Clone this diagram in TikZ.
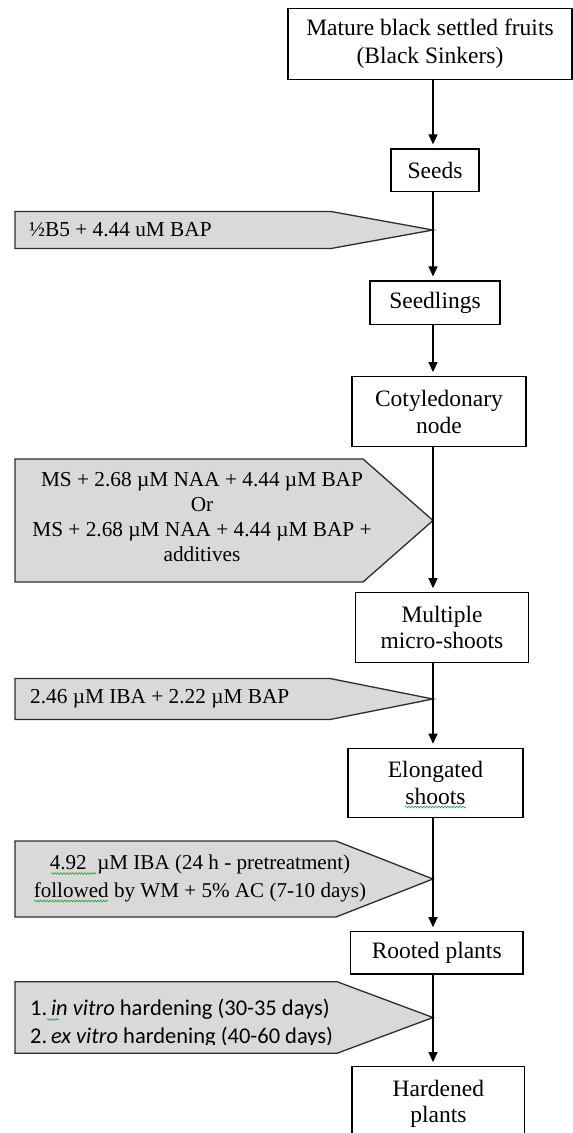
\documentclass[tikz,border=0pt]{standalone}
\usepackage{fontspec}
\setmainfont{Liberation Serif}
\newfontfamily\calib{Carlito}
\usetikzlibrary{arrows.meta,decorations.pathmorphing}
\definecolor{pentgray}{RGB}{217,217,217}
\definecolor{edgegray}{RGB}{45,45,45}
\definecolor{spellgreen}{RGB}{40,160,60}
\begin{document}
\begin{tikzpicture}[x=1pt,y=-1pt,
  box/.style={draw=black, line width=1.2pt, fill=white, align=center, inner sep=0pt,
              font=\fontsize{23.5}{26.7}\selectfont},
  pent/.style={draw=edgegray, line width=1.3pt, fill=pentgray},
  ptext/.style={inner sep=0pt, font=\fontsize{21.3}{25}\selectfont},
  arr/.style={line width=1.2pt, shorten >=4pt, -{Triangle[length=10pt,width=9pt]}},
  squiggle/.style={draw=spellgreen, line width=0.6pt,
                   decorate, decoration={snake, amplitude=0.9pt, segment length=3pt}},
]
\useasboundingbox (0,0) rectangle (573,1133);
\clip (0,0) rectangle (573,1133);
\fill[white] (0,0) rectangle (573,1133);
\coordinate (spine) at (433,0);

% pentagon arrows (media / treatments)
\draw[pent] (15,211.5) -- (331,211.5) -- (433,230) -- (331,248.5) -- (15,248.5) -- cycle;
\node[ptext, anchor=west] (m1) at (29,230) {½B5 + 4.44 uM BAP};

\draw[pent] (15,459) -- (363,459) -- (433,520.5) -- (363,582) -- (15,582) -- cycle;
\node[ptext, align=center] (m2) at (202,517.5)
  {MS + 2.68 µM NAA + 4.44 µM BAP\\Or\\MS + 2.68 µM NAA + 4.44 µM BAP +\\additives};

\draw[pent] (15,678.5) -- (330,678.5) -- (433,699) -- (330,719.5) -- (15,719.5) -- cycle;
\node[ptext, anchor=west] (m3) at (30,698.5) {2.46 µM IBA + 2.22 µM BAP};

\draw[pent] (15,841) -- (336,841) -- (433,879) -- (336,917) -- (15,917) -- cycle;
\node[ptext, align=center, font=\fontsize{21.1}{28}\selectfont] (m4) at (200,878)
  {4.92\ \ µM IBA (24 h - pretreatment)\\followed by WM + 5\% AC (7-10 days)};
\draw[squiggle] (51,873.5) -- (96,873.5);
\draw[squiggle] (34,901) -- (108,901);

\draw[pent] (15,981.7) -- (337,981.7) -- (433,1017.5) -- (337,1053.3) -- (15,1053.3) -- cycle;
\begin{scope}
\clip (0,985) rectangle (430,1044);
\node[inner sep=0pt, align=left, anchor=west, font=\calib\fontsize{22.5}{28.3}\selectfont] (m5) at (30,1023)
  {1.\,\textit{in vitro} hardening (30-35 days)\\2.\,\textit{ex vitro} hardening (40-60 days)};
\end{scope}
\draw[squiggle] (47,1019.5) -- (59,1019.5);

% process boxes
\node[box, minimum width=284pt, minimum height=71pt, font=\fontsize{23.5}{28.3}\selectfont]
  (fruits) at (430,43.8) {Mature black settled fruits\\(Black Sinkers)};
\node[box, minimum width=88pt, minimum height=42.7pt] (seeds) at (435,170.3) {Seeds};
\node[box, minimum width=130pt, minimum height=43.3pt] (seedlings) at (435,302.7) {Seedlings};
\node[box, minimum width=174pt, minimum height=70pt] (coty) at (439,411.7) {Cotyledonary\\node};
\node[box, minimum width=173.4pt, minimum height=69.4pt] (multi) at (442,627.5) {Multiple\\micro-shoots};
\node[box, minimum width=175pt, minimum height=69pt] (elong) at (435.5,782.8) {Elongated\\shoots};
\draw[squiggle] (405,807) -- (466,807);
\node[box, minimum width=172.7pt, minimum height=42.3pt] (rooted) at (436.7,952.9) {Rooted plants};
\node[box, minimum width=172.7pt, minimum height=74pt] (harden) at (438.4,1103.7) {Hardened\\plants};

% connectors along the spine
\draw[arr] (spine |- fruits.south) -- (spine |- seeds.north);
\draw[arr] (spine |- seeds.south) -- (spine |- seedlings.north);
\draw[arr] (spine |- seedlings.south) -- (spine |- coty.north);
\draw[arr] (spine |- coty.south) -- (spine |- multi.north);
\draw[arr] (spine |- multi.south) -- (spine |- elong.north);
\draw[arr] (spine |- elong.south) -- (spine |- rooted.north);
\draw[arr] (spine |- rooted.south) -- (spine |- harden.north);
\end{tikzpicture}
\end{document}
